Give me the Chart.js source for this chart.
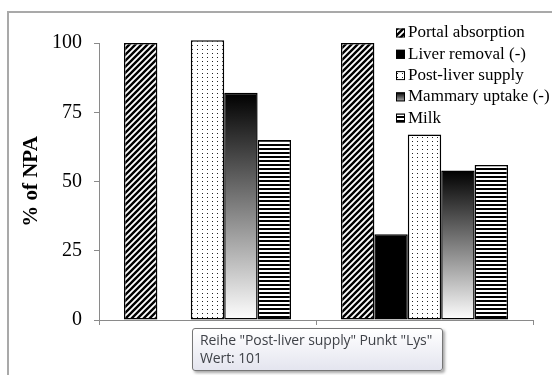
<!DOCTYPE html>
<html>
<head>
<meta charset="utf-8">
<script src="https://cdn.jsdelivr.net/npm/chart.js@4.4.1/dist/chart.umd.min.js"></script>
<style>
body{margin:0;width:552px;height:375px;overflow:hidden;background:#fff;position:relative}
#frame{position:absolute;left:7px;top:11px;width:600px;height:400px;border:2px solid #a9a9a9}
#chart{position:absolute;left:0;top:0}
#tip{position:absolute;left:192px;top:328px;width:251px;box-sizing:border-box;padding:2px 7px 3px;
  border:1px solid #767676;border-radius:3px;background:linear-gradient(#ffffff,#e4e5ef);
  box-shadow:2px 2px 3px rgba(0,0,0,.35);font:14px "Open Sans",sans-serif;line-height:18px;color:#3f4248;
  white-space:nowrap;display:none;letter-spacing:-0.1px}
</style>
</head>
<body>
<div id="frame"></div>
<canvas id="chart" width="552" height="375"></canvas>
<div id="tip"></div>
<script>
const categories = ["Lys", "Met"];
const seriesNames = ["Portal absorption", "Liver removal (-)", "Post-liver supply", "Mammary uptake (-)", "Milk"];
const portal = [100, 100];
const liverRemoval = [null, 31];
const postLiver = [101, 67];
const mammary = [82, 54];
const milk = [65, 56];
const yTicks = [0, 25, 50, 75, 100];

const serif = '"Liberation Serif", "Times New Roman", serif';
Chart.defaults.font.family = serif;
Chart.defaults.color = "#000";

const canvas = document.getElementById("chart");
const ctx = canvas.getContext("2d");

// small tiles for the bar fills
function tile(w, h, draw){
    const c = document.createElement("canvas");
    c.width = w; c.height = h;
    const g = c.getContext("2d");
    g.fillStyle = "#fff";
    g.fillRect(0, 0, w, h);
    draw(g, w, h);
    return ctx.createPattern(c, "repeat");
}
const hatch = tile(6, 6, (g, s)=>{
    g.strokeStyle = "#000";
    g.lineWidth = 2.4;
    g.beginPath();
    g.moveTo(-1, 1); g.lineTo(1, -1);
    g.moveTo(0, s); g.lineTo(s, 0);
    g.moveTo(s-1, s+1); g.lineTo(s+1, s-1);
    g.stroke();
});
const dots = tile(5, 4, g=>{
    g.fillStyle = "#222";
    g.fillRect(2, 1, 1, 1);
});
const stripes = tile(4, 4, g=>{
    g.fillStyle = "#000";
    g.fillRect(0, 0, 4, 2);
});
function fade(c, top, bottom){
    const gr = c.createLinearGradient(0, top, 0, bottom);
    gr.addColorStop(0, "#000");
    gr.addColorStop(1, "#fefefe");
    return gr;
}
// gradient runs from the top of each bar down to the zero line
function mammaryFill(context){
    const chart = context.chart;
    if(!chart.chartArea || context.raw == null) return "#777";
    const y = chart.scales.y;
    return fade(chart.ctx, y.getPixelForValue(context.raw), y.getPixelForValue(0));
}

const fills = [hatch, "#000", dots, mammaryFill, stripes];
const values = [portal, liverRemoval, postLiver, mammary, milk];

const datasets = seriesNames.map((name, i)=>({
    label: name,
    data: values[i],
    backgroundColor: fills[i],
    borderColor: "#000",
    borderWidth: 1.5,
    borderSkipped: false
}));

// legend drawn over the plot, top right
const sideLegend = {
    id: "sideLegend",
    afterDraw(chart){
        const c = chart.ctx;
        c.save();
        c.font = "17px " + serif;
        c.textBaseline = "middle";
        chart.data.datasets.forEach((ds, i)=>{
            const x = 396, y = 33 + i*21.3, s = 9;
            c.fillStyle = i === 3 ? fade(c, y - s/2, y + s/2 + 4) : fills[i];
            c.fillRect(x, y - s/2, s, s);
            c.strokeStyle = "#000";
            c.lineWidth = 1;
            c.strokeRect(x + 0.5, y - s/2 + 0.5, s - 1, s - 1);
            c.fillStyle = "#000";
            c.fillText(ds.label, 408, y);
        });
        c.restore();
    }
};

const chart = new Chart(canvas, {
    type: "bar",
    data: { labels: categories, datasets: datasets },
    options: {
        responsive: false,
        animation: false,
        events: [],
        layout: { padding: { left: 0, top: 43, right: 19, bottom: 0 } },
        datasets: { bar: { categoryPercentage: 0.77, barPercentage: 1, clip: false } },
        plugins: {
            legend: { display: false },
            tooltip: {
                enabled: false,
                callbacks: {
                    title: items => 'Reihe "' + items[0].dataset.label + '" Punkt "' + items[0].label + '"',
                    label: item => "Wert: " + item.raw
                },
                external: ({tooltip})=>{
                    const el = document.getElementById("tip");
                    if(!tooltip.opacity){ el.style.display = "none"; return; }
                    el.innerHTML = "";
                    const lines = tooltip.title.concat(...tooltip.body.map(b=>b.lines));
                    lines.forEach(t=>{
                        const d = document.createElement("div");
                        d.textContent = t;
                        el.appendChild(d);
                    });
                    el.style.display = "block";
                }
            }
        },
        scales: {
            x: {
                offset: true,
                grid: { display: true, drawOnChartArea: false, tickLength: 5, color: "#8a8a8a", offset: true },
                border: { color: "#8a8a8a" },
                ticks: { display: false },
                afterFit: s=>{ s.height = 55; }
            },
            y: {
                min: 0,
                max: 100,
                afterBuildTicks: s=>{ s.ticks = yTicks.map(v=>({ value: v })); },
                grid: { drawOnChartArea: false, tickLength: 5, color: "#8a8a8a" },
                border: { color: "#8a8a8a" },
                ticks: { font: { size: 20 }, padding: 12, color: "#000" },
                title: { display: true, text: "% of NPA", font: { size: 21, weight: "bold" }, padding: { top: 19 }, color: "#000" },
                afterFit: s=>{ s.width = 99; }
            }
        }
    },
    plugins: [sideLegend]
});

chart.tooltip.setActiveElements([{ datasetIndex: 2, index: 0 }], { x: 208, y: 200 });
</script>
</body>
</html>
